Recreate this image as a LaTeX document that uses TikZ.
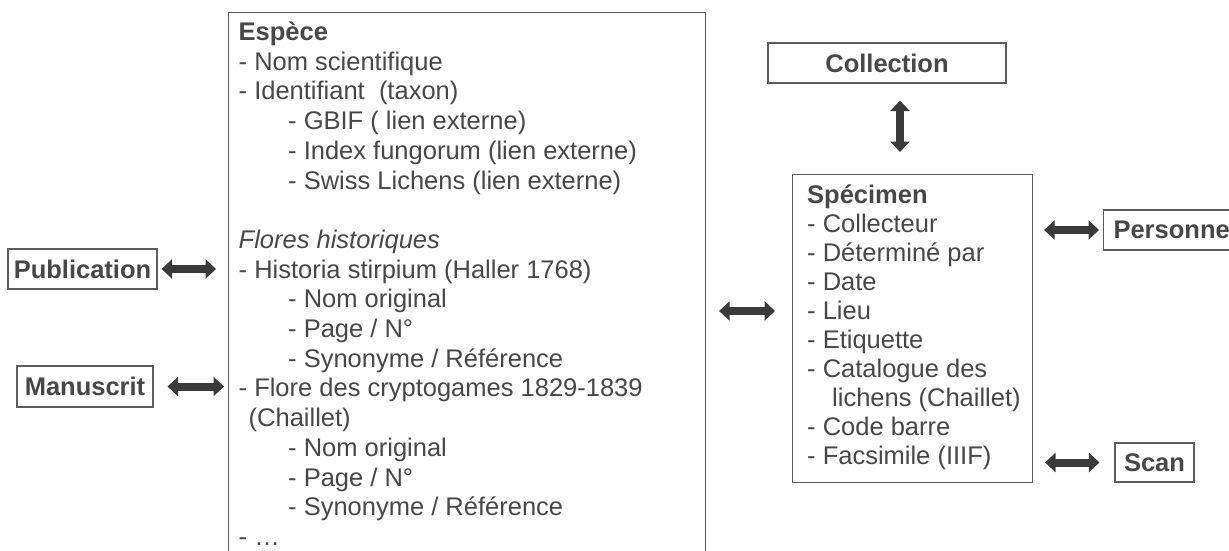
\documentclass[tikz,border=0pt]{standalone}
\usepackage{fontspec}
\setmainfont{Liberation Sans}
\usetikzlibrary{arrows.meta}
\definecolor{txt}{HTML}{474747}
\definecolor{arr}{HTML}{3A3A3A}
\definecolor{brd}{HTML}{5C5C5C}
\newcommand{\ind}{\hspace*{49.5pt}}
\begin{document}
\begin{tikzpicture}[x=1pt,y=-1pt,
  box/.style={draw=brd, line width=1.1pt, inner sep=0pt},
  lbl/.style={box, font=\fontsize{25.5}{29.7}\selectfont\bfseries, text=txt},
  body/.style={inner sep=0pt, align=left, text=txt, anchor=north west},
  dbl/.style={{Triangle[length=10.5pt,width=19pt]}-{Triangle[length=10.5pt,width=19pt]}, line width=8pt, draw=arr},
]
\useasboundingbox (0,0) rectangle (1229,551);
\clip (0,0) rectangle (1229,551);
% boxes
\node[box, anchor=north west, minimum width=477pt, minimum height=600pt] (espece) at (228,12) {};
\node[box, anchor=north west, minimum width=240pt, minimum height=308pt] (spec) at (792,174) {};
\node[lbl, minimum width=149pt, minimum height=40pt] (pub) at (82.5,269) {Publication};
\node[lbl, minimum width=136pt, minimum height=41pt] (man) at (85,386.5) {Manuscrit};
\node[lbl, minimum width=238pt, minimum height=40pt] (coll) at (887,63) {Collection};
\node[lbl, minimum width=79pt, minimum height=39pt] (scan) at (1154.5,462.5) {Scan};
\node[lbl, anchor=west, minimum height=40pt, inner xsep=10pt] (pers) at (1103,230) {Personne\hspace{20pt}};
% texts
\node[body, font=\fontsize{25.5}{29.7}\selectfont] (especetext) at (238.5,21.6) {%
\textbf{Espèce}\\
- Nom scientifique\\
- Identifiant\ \ (taxon)\\
\ind- GBIF ( lien externe)\\
\ind- Index fungorum (lien externe)\\
\ind- Swiss Lichens (lien externe)\\
\mbox{}\\
\textit{Flores historiques}\\
- Historia stirpium (Haller 1768)\\
\ind- Nom original\\
\ind- Page / N°\\
\ind- Synonyme / Référence\\
- Flore des cryptogames 1829-1839\\
\hspace*{10pt}(Chaillet)\\
\ind- Nom original\\
\ind- Page / N°\\
\ind- Synonyme / Référence\\
- \dots};
\node[body, font=\fontsize{25.5}{29}\selectfont] (spectext) at (807,184.6) {%
\textbf{Spécimen}\\
- Collecteur\\
- Déterminé par\\
- Date\\
- Lieu\\
- Etiquette\\
- Catalogue des\\
\hspace*{25pt}lichens (Chaillet)\\
- Code barre\\
- Facsimile (IIIF)};
% connectors
\coordinate (ymid) at (0,311);
\coordinate (xv) at (900,0);
\draw[dbl, shorten <=4pt, shorten >=12pt] (pub.east) -- (pub.east -| espece.west);
\draw[dbl, shorten <=14pt, shorten >=4pt] (man.east) -- (man.east -| espece.west);
\draw[dbl, shorten <=13pt, shorten >=17pt] (espece.east |- ymid) -- (spec.west |- ymid);
\draw[dbl, shorten <=17pt, shorten >=22pt] (coll.south -| xv) -- (spec.north -| xv);
\draw[dbl, shorten <=11pt, shorten >=4pt] (spec.east |- pers.west) -- (pers.west);
\draw[dbl, shorten <=12pt, shorten >=15pt] (spec.east |- scan.west) -- (scan.west);
\end{tikzpicture}
\end{document}
